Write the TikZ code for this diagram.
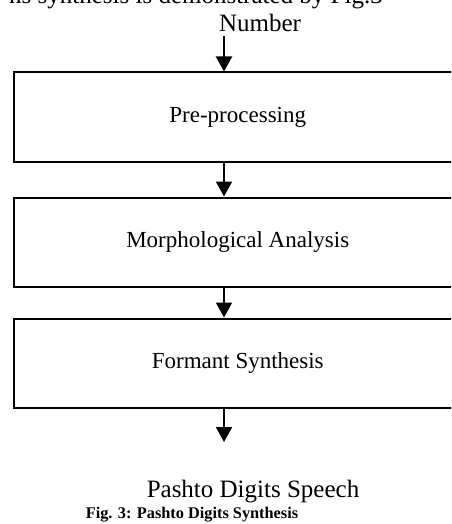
\documentclass[tikz,border=0pt]{standalone}
\usepackage{fontspec}
\setmainfont{Liberation Serif}
\usetikzlibrary{arrows.meta}

\tikzset{
  stage/.style={draw=black, line width=2pt, rectangle, minimum width=448pt, minimum height=89pt, inner sep=0pt, font=\fontsize{23}{27}\selectfont},
  flow/.style={line width=2pt, -{Triangle[length=15pt,width=16pt]}}
}

\begin{document}
\begin{tikzpicture}[x=1pt,y=-1pt]
		\useasboundingbox (0,0) rectangle (451,524);
		\clip (0,0) rectangle (451,524);

		%text line cut from the page above
		\node[anchor=base east, inner sep=0pt, font=\fontsize{25}{29}\selectfont] (line) at (383,3.5) {ns synthesis is demonstrated by Fig.3};

		%input and output
		\node[anchor=base, inner sep=0pt, font=\fontsize{25}{29}\selectfont] (num) at (260,32) {Number};
		\coordinate (in) at (224,36);
		\coordinate (out) at (224,442);

		%draw boxes
		\node[stage] (pre) at (237.75,117) {Pre-processing};
		\node[stage] (morph) at (237.75,242) {Morphological Analysis};
		\node[stage] (form) at (237.75,363) {Formant Synthesis};

		%draw arrows
		\draw[flow] (in) -- (pre.north -| in);
		\draw[flow] (pre.south -| in) -- (morph.north -| in);
		\draw[flow] (morph.south -| in) -- (form.north -| in);
		\draw[flow] (form.south -| in) -- (out);

		%speech & caption
		\node[anchor=base, inner sep=0pt, font=\fontsize{25}{29}\selectfont] (speech) at (253,497) {Pashto Digits Speech};
		\node[anchor=base, inner sep=0pt, font=\fontsize{16.3}{19}\selectfont\bfseries] (cap) at (192,518) {Fig. 3: Pashto Digits Synthesis};
\end{tikzpicture}
\end{document}
